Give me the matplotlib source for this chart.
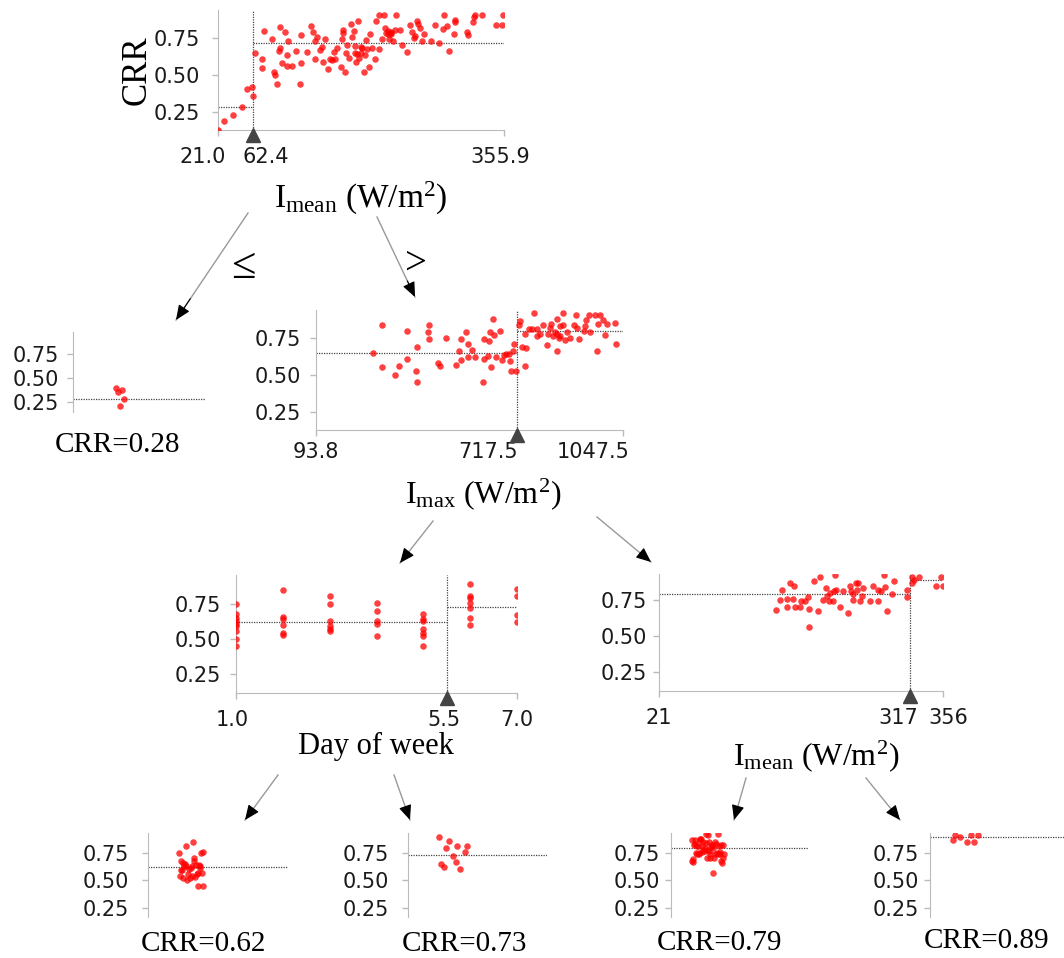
import matplotlib
matplotlib.use("Agg")
import matplotlib.pyplot as plt
from matplotlib.transforms import ScaledTranslation, offset_copy
import numpy as np

# ---------------- data ----------------
# root node: I_mean vs CRR
root_imean = [21.4, 28, 38, 49, 55, 60.5, 61.5,
              64.4, 73, 73, 75, 84, 86, 88, 90, 92, 94, 94, 96, 100, 102, 103, 102, 108,
              112, 117, 118, 118, 125, 130, 132, 134, 135, 137, 141, 143, 144, 146, 150,
              152, 154, 157, 158, 160, 165, 166, 167, 167, 170, 171, 172, 174, 177, 178,
              180, 181, 181, 183, 184, 185, 186, 189, 189, 190, 192, 193, 194, 196, 198,
              199, 201, 205, 206, 209, 209, 213, 215, 216, 218, 220, 221, 222, 224, 226,
              228, 230, 234, 236, 242, 246, 248, 250, 252, 254, 255, 258, 260, 262, 271,
              275, 280, 285, 286, 289, 292, 297, 298, 299, 313, 314, 320, 321, 322, 330,
              346, 354, 355, 220, 223]
root_crr = [0.125, 0.186, 0.227, 0.284, 0.405, 0.416, 0.36,
            0.648, 0.607, 0.55, 0.80, 0.743, 0.523, 0.50, 0.436, 0.664, 0.83, 0.686, 0.58, 0.79, 0.636, 0.734, 0.56, 0.56,
            0.664, 0.44, 0.58, 0.77, 0.655, 0.834, 0.79, 0.734, 0.607, 0.757, 0.67, 0.693, 0.586, 0.743, 0.54,
            0.607, 0.602, 0.659, 0.607, 0.682, 0.557, 0.743, 0.786, 0.81, 0.523, 0.648, 0.705, 0.614, 0.85, 0.757,
            0.80, 0.652, 0.698, 0.591, 0.641, 0.87, 0.618, 0.693, 0.648, 0.686, 0.523, 0.636, 0.739, 0.675, 0.557,
            0.777, 0.686, 0.607, 0.87, 0.675, 0.909, 0.743, 0.909, 0.818, 0.784, 0.78, 0.743, 0.789, 0.78, 0.734,
            0.807, 0.909, 0.807, 0.705, 0.659, 0.84, 0.795, 0.75, 0.766, 0.868, 0.848, 0.818, 0.734, 0.78, 0.734,
            0.84, 0.72, 0.811, 0.909, 0.834, 0.666, 0.777, 0.877, 0.86, 0.795, 0.773, 0.86, 0.897, 0.909, 0.909,
            0.84, 0.84, 0.909, 0.80, 0.79]

# node I_max (for I_mean > 62.4)
imax_val = [271, 299, 299, 338, 352, 375, 375, 403, 408, 408, 441, 445, 445, 472, 480, 497,
            530, 537, 543, 545, 561, 565, 566, 579, 589, 613, 615, 617, 627, 631, 634, 636,
            644, 648, 654, 664, 671, 679, 685, 693, 697, 701, 706, 710, 716,
            724, 729, 734, 742, 744, 747, 755, 766, 771, 779, 800, 811, 814, 825, 831, 835,
            841, 843, 848, 853, 860, 862, 867, 882, 895, 901, 910, 926, 931, 934, 943, 944,
            962, 967, 969, 977, 985, 992, 999, 1023, 1027, 791, 843, 853, 904, 781, 820, 875]
imax_crr = [0.646, 0.84, 0.555, 0.50, 0.56, 0.80, 0.61, 0.53, 0.69, 0.45, 0.79, 0.84, 0.74, 0.58, 0.56, 0.75,
            0.57, 0.66, 0.60, 0.745, 0.79, 0.71, 0.62, 0.67, 0.62, 0.45, 0.605, 0.74, 0.63, 0.73, 0.79, 0.555,
            0.877, 0.77, 0.62, 0.80, 0.60, 0.635, 0.64, 0.645, 0.595, 0.526, 0.66, 0.71, 0.526,
            0.84, 0.865, 0.69, 0.56, 0.78, 0.68, 0.81, 0.81, 0.92, 0.76, 0.84, 0.70, 0.78, 0.845, 0.76, 0.79,
            0.665, 0.88, 0.75, 0.83, 0.92, 0.84, 0.735, 0.75, 0.84, 0.906, 0.74, 0.80, 0.83, 0.87, 0.906, 0.79,
            0.906, 0.665, 0.845, 0.906, 0.87, 0.77, 0.845, 0.854, 0.71, 0.78, 0.78, 0.76, 0.815, 0.81, 0.82, 0.79]

# node Day of week (for I_max <= 717.5)
day_val = [1, 1, 1, 1, 1, 1, 1, 1, 1,
           2, 2, 2, 2, 2, 2,
           3, 3, 3, 3, 3, 3,
           4, 4, 4, 4, 4,
           5, 5, 5, 5, 5, 5, 5,
           6, 6, 6, 6, 6, 6, 6,
           7, 7, 7, 7]
day_crr = [0.75, 0.68, 0.65, 0.63, 0.61, 0.59, 0.56, 0.50, 0.45,
           0.85, 0.66, 0.64, 0.60, 0.54, 0.53,
           0.81, 0.75, 0.63, 0.59, 0.57, 0.555,
           0.76, 0.70, 0.63, 0.61, 0.52,
           0.68, 0.64, 0.63, 0.57, 0.54, 0.52, 0.45,
           0.89, 0.81, 0.79, 0.76, 0.72, 0.65, 0.60,
           0.86, 0.81, 0.67, 0.62]

# node I_mean (for I_max > 717.5)
imean2_val = [159.6, 165.5, 163.6, 171.4, 171.4, 176, 180, 179, 181, 187, 189, 193, 197, 198, 198,
              204, 208, 211, 215, 218, 219, 221, 223, 226, 227, 229, 230, 234, 238, 244, 246, 248,
              250, 250, 253, 255, 256, 258, 261, 262, 270, 273, 279, 279, 283, 286, 288, 290, 296,
              298, 313, 313, 319, 320, 322, 328, 348, 354, 356]
imean2_crr = [0.68, 0.82, 0.75, 0.755, 0.70, 0.87, 0.85, 0.755, 0.70, 0.70, 0.74, 0.74, 0.77, 0.69, 0.565,
              0.88, 0.675, 0.91, 0.75, 0.83, 0.78, 0.74, 0.80, 0.74, 0.81, 0.92, 0.82, 0.70, 0.81, 0.66, 0.85, 0.81,
              0.75, 0.79, 0.87, 0.82, 0.87, 0.74, 0.78, 0.83, 0.74, 0.85, 0.82, 0.74, 0.81, 0.92, 0.84, 0.67, 0.79,
              0.88, 0.82, 0.77, 0.87, 0.91, 0.89, 0.91, 0.85, 0.91, 0.85]

# leaf (I_mean <= 62.4)
leaf1_crr = [0.40, 0.38, 0.35, 0.28, 0.21]

# split thresholds and node means
split_root, split_imax, split_day, split_imean2 = 62.4, 717.5, 5.5, 317
root_means = (0.28, 0.72)
imax_means = (0.65, 0.80)
day_means = (0.62, 0.73)
imean2_means = (0.79, 0.89)
leaf_values = [0.28, 0.62, 0.73, 0.79, 0.89]

# ---------------- figure ----------------
W, H = 1064, 958
fig = plt.figure(figsize=(W / 100, H / 100), dpi=100)
plt.rcParams['mathtext.fontset'] = 'custom'
plt.rcParams['mathtext.rm'] = 'Liberation Serif'
plt.rcParams['mathtext.it'] = 'Liberation Serif:italic'
SERIF = ['Liberation Serif', 'DejaVu Serif']
RED = '#ff0000'
SPINE = '#bbbbbb'
LINE = '#444444'
TICKSIZE = 15
PTSIZE = 22


def pax(l, t, r, b):
    return fig.add_axes([l / W, 1 - b / H, (r - l) / W, (b - t) / H])


def style(ax, ylim, ypad, show_bottom=True):
    ax.set_ylim(ylim)
    for s in ('top', 'right'):
        ax.spines[s].set_visible(False)
    ax.spines['left'].set_color(SPINE)
    ax.spines['bottom'].set_color(SPINE)
    ax.spines['bottom'].set_visible(show_bottom)
    ax.set_yticks([0.25, 0.5, 0.75])
    ax.set_yticklabels(['0.25', '0.50', '0.75'])
    ax.tick_params(axis='y', length=4, width=1, color=SPINE, labelsize=TICKSIZE,
                   labelcolor='#1a1a1a', pad=ypad)
    ax.patch.set_alpha(0)


def split_panel(box, x, y, xlim, ylim, split, means, ticks, ticklabels, offsets, ypad, xpad):
    ax = pax(*box)
    ax.scatter(x, y, s=PTSIZE, color=RED, alpha=0.75, lw=0, zorder=3)
    ax.set_xlim(xlim)
    style(ax, ylim, ypad)
    ax.hlines(means[0], xlim[0], split, color=LINE, lw=0.9, ls=(0, (1, 1)), zorder=2)
    ax.hlines(means[1], split, xlim[1], color=LINE, lw=0.9, ls=(0, (1, 1)), zorder=2)
    ax.vlines(split, ylim[0], ylim[1], color=LINE, lw=0.9, ls=(0, (1, 1)), zorder=2)
    tr = offset_copy(ax.transData, fig=fig, x=0, y=-5, units='dots')
    ax.plot([split], [ylim[0]], marker='^', ms=10, color=LINE, transform=tr,
            clip_on=False, zorder=4)
    ax.set_xticks(ticks)
    ax.set_xticklabels(ticklabels)
    ax.tick_params(axis='x', length=4, width=1, color=SPINE, labelsize=TICKSIZE,
                   labelcolor='#1a1a1a', pad=xpad)
    for lbl, dx in zip(ax.get_xticklabels(), offsets):
        lbl.set_transform(lbl.get_transform() + ScaledTranslation(dx / 100, 0, fig.dpi_scale_trans))
    return ax


def leaf_panel(box, y, ylim, mean, center, width, ypad):
    ax = pax(*box)
    n = len(y)
    xs = [center + width * (((i * 0.6180339887) % 1.0) - 0.5) for i in range(n)]
    ax.scatter(xs, y, s=PTSIZE, color=RED, alpha=0.75, lw=0, zorder=3)
    ax.set_xlim(0, 1)
    style(ax, ylim, ypad, show_bottom=False)
    ax.set_xticks([])
    ax.hlines(mean, 0, 1, color=LINE, lw=0.9, ls=(0, (1, 1)), zorder=2)
    return ax


# root panel
split_panel((218, 10, 504, 130), root_imean, root_crr, (21.0, 355.9), (0.125, 0.943),
            split_root, root_means, [21.0, split_root, 355.9], ['21.0', '62.4', '355.9'],
            [-15, 12, -4], 9, 8)

# I_max panel
split_panel((316, 310, 623, 430), imax_val, imax_crr, (93.8, 1047.5), (0.128, 0.939),
            split_imax, imax_means, [93.8, split_imax, 1047.5], ['93.8', '717.5', '1047.5'],
            [0, -29, -30], 7, 5)

# Day of week panel
split_panel((236, 575, 517, 693), day_val, day_crr, (1.0, 7.0), (0.114, 0.957),
            split_day, day_means, [1.0, split_day, 7.0], ['1.0', '5.5', '7.0'],
            [-4, -3, 0], 7, 8)

# I_mean right panel
split_panel((659, 574, 943, 691), imean2_val, imean2_crr, (21, 356), (0.118, 0.93),
            split_imean2, imean2_means, [21, split_imean2, 356], ['21', '317', '356'],
            [0, -12, 5], 5, 8)

# leaves
day_v = np.array(day_val); day_c = np.array(day_crr)
im_v = np.array(imean2_val); im_c = np.array(imean2_crr)
leaf_panel((73, 332, 205, 412), leaf1_crr, (0.146, 0.98), leaf_values[0], 0.36, 0.07, 6)
leaf_panel((148, 833, 288, 917), day_c[day_v <= split_day], (0.168, 0.93), leaf_values[1], 0.31, 0.18, 10)
leaf_panel((408, 833, 547, 917), day_c[day_v > split_day], (0.168, 0.93), leaf_values[2], 0.33, 0.22, 10)
leaf_panel((671, 833, 808, 917), im_c[im_v <= split_imean2], (0.168, 0.93), leaf_values[3], 0.27, 0.24, 4)
leaf_panel((930, 833, 1064, 917), im_c[im_v > split_imean2], (0.168, 0.93), leaf_values[4], 0.28, 0.22, 4)

# ---------------- overlay: labels and arrows ----------------
ov = fig.add_axes([0, 0, 1, 1])
ov.set_xlim(0, W)
ov.set_ylim(H, 0)
ov.axis('off')

ov.text(137, 70, 'CRR', rotation=90, ha='center', va='center', fontsize=25, family=SERIF)
ov.text(361, 208, r'I$_{\mathrm{mean}}$ (W/m$^{2}$)', ha='center', va='baseline', fontsize=24, family=SERIF)
ov.text(483, 503, r'I$_{\mathrm{max}}$ (W/m$^{2}$)', ha='center', va='baseline', fontsize=23, family=SERIF)
ov.text(376, 754, 'Day of week', ha='center', va='baseline', fontsize=22, family=SERIF)
ov.text(816, 765, r'I$_{\mathrm{mean}}$ (W/m$^{2}$)', ha='center', va='baseline', fontsize=23, family=SERIF)

leaf_label_pos = [(117, 452), (203, 951), (464, 951), (720, 950), (987, 948)]
for (lx, ly), v in zip(leaf_label_pos, leaf_values):
    ov.text(lx, ly, f'CRR={v:.2f}', ha='center', va='baseline', fontsize=21, family=SERIF)

ov.text(243, 267, '≤', ha='center', va='center', fontsize=32, family=SERIF)
ov.text(416, 264, '>', ha='center', va='center', fontsize=28, family=SERIF)

arrows = [(248, 213, 176, 320), (377, 217, 415, 297), (433, 521, 400, 563), (597, 517, 651, 562),
          (278, 775, 245, 820), (394, 775, 410, 820), (746, 778, 734, 820), (866, 778, 900, 820)]
for x0, y0, x1, y1 in arrows:
    ov.plot([x0, x1], [y0, y1], color='#999999', lw=1)
    fx, fy = x1 - (x1 - x0) * 0.2, y1 - (y1 - y0) * 0.2
    ov.annotate('', xy=(x1, y1), xytext=(fx, fy),
                arrowprops=dict(arrowstyle='-|>,head_length=0.7,head_width=0.3', color='black',
                                lw=0.8, shrinkA=0, shrinkB=0, mutation_scale=13))

fig.savefig('out.png', dpi=100)
